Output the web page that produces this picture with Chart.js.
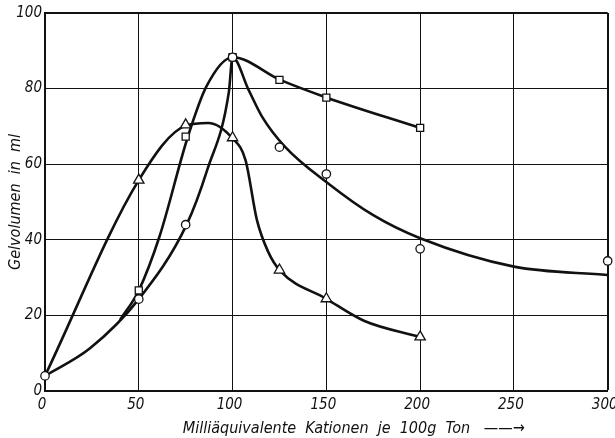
<!DOCTYPE html>
<html>
<head>
<meta charset="utf-8">
<script src="https://cdn.jsdelivr.net/npm/chart.js@4.4.1/dist/chart.umd.min.js"></script>
<style>
  html, body { margin: 0; padding: 0; background: #fff; }
  #wrap { width: 615px; height: 438px; }
</style>
</head>
<body>
<div id="wrap"><canvas id="c" width="615" height="438"></canvas></div>
<script>
/* Gelvolumen vs. Milliäquivalente Kationen — three measured series with hand-drawn curves */

// ---------- measured points ----------
const circleX = [0, 50, 75, 100, 125, 150, 200, 300];
const circleY = [4, 24.3, 44, 88.3, 64.5, 57.4, 37.6, 34.4];

const squareX = [50, 75, 100, 125, 150, 200];
const squareY = [26.6, 67.3, 88.3, 82.3, 77.6, 69.6];

const triangleX = [50, 75, 100, 125, 150, 200];
const triangleY = [55.8, 70.4, 67, 32, 24.4, 14.3];

// ---------- drawn curves ----------
const circleCurveX = [0, 24, 50, 75.5, 86.5, 98, 100, 108.6, 115.7, 128, 151, 175, 200, 250, 300];
const circleCurveY = [4, 11.3, 24.3, 44, 58.5, 79, 88.3, 79.6, 72.6, 64.6, 54.9, 46.5, 40.4, 32.9, 30.7];

const squareCurveX = [40, 50, 61, 76, 86, 100, 125.4, 150.3, 200];
const squareCurveY = [18.8, 26.6, 40.8, 67, 80.5, 88.3, 82.3, 77.6, 69.6];

const triangleCurveX = [0, 50, 75, 87, 100, 106.9, 113, 119, 125.4, 150, 170, 200];
const triangleCurveY = [4, 55.8, 70.2, 70.9, 66.8, 61.1, 45.2, 36.8, 31.8, 24.4, 18.6, 14.3];

// ---------- axes ----------
const xTicks = [0, 50, 100, 150, 200, 250, 300];
const yTicks = [0, 20, 40, 60, 80, 100];

const INK = "#111";
const FONT = "'Liberation Sans Narrow', 'DejaVu Sans Condensed', Arial, sans-serif";

function pts(xs, ys) {
  return xs.map((x, i) => ({ x, y: ys[i] }));
}

function markerSet(xs, ys, style, size) {
  return {
    data: pts(xs, ys),
    showLine: false,
    pointStyle: style,
    pointRadius: size,
    pointBackgroundColor: "#fff",
    pointBorderColor: INK,
    pointBorderWidth: 1.3,
    clip: false,
    order: 0,
  };
}

function curveSet(xs, ys) {
  return {
    data: pts(xs, ys),
    showLine: true,
    borderColor: INK,
    borderWidth: 2.6,
    pointRadius: 0,
    cubicInterpolationMode: "monotone",
    clip: false,
    order: 1,
  };
}

new Chart(document.getElementById("c"), {
  type: "scatter",
  data: {
    datasets: [
      markerSet(circleX, circleY, "circle", 4.2),
      markerSet(squareX, squareY, "rect", 5),
      markerSet(triangleX, triangleY, "triangle", 6),
      curveSet(circleCurveX, circleCurveY),
      curveSet(squareCurveX, squareCurveY),
      curveSet(triangleCurveX, triangleCurveY),
    ],
  },
  options: {
    responsive: false,
    animation: false,
    layout: { padding: { top: 13, right: 6, left: 0, bottom: 0 } },
    plugins: { legend: { display: false }, tooltip: { enabled: false } },
    scales: {
      x: {
        type: "linear",
        min: 0, max: 300,
        afterBuildTicks: s => { s.ticks = xTicks.map(v => ({ value: v })); },
        afterFit: s => { s.height = 47; s.paddingLeft = 0; s.paddingRight = 0; },
        border: { display: true, color: INK, width: 2 },
        grid: {
          color: INK,
          lineWidth: c => (c.tick.value === 300 ? 2 : 1),
          drawTicks: false,
        },
        ticks: {
          color: INK,
          padding: 5,
          labelOffset: -3,
          font: { family: FONT, size: 15, style: "italic" },
        },
        title: {
          display: true,
          text: "\u00a0\u00a0\u00a0\u00a0\u00a0\u00a0\u00a0\u00a0\u00a0\u00a0\u00a0\u00a0Milliäquivalente  Kationen  je  100g  Ton   ——→",
          color: INK,
          padding: { top: 0, bottom: 0 },
          font: { family: FONT, size: 16, style: "italic" },
        },
      },
      y: {
        min: 0, max: 100,
        afterBuildTicks: s => { s.ticks = yTicks.map(v => ({ value: v })); },
        afterFit: s => { s.width = 45; s.paddingTop = 0; s.paddingBottom = 0; },
        border: { display: true, color: INK, width: 2 },
        grid: {
          color: INK,
          lineWidth: c => (c.tick.value === 100 ? 2 : 1),
          drawTicks: false,
        },
        ticks: {
          color: INK,
          padding: 3,
          font: { family: FONT, size: 15, style: "italic" },
        },
        title: {
          display: true,
          text: "Gelvolumen  in  ml",
          color: INK,
          padding: { top: 6, bottom: 2 },
          font: { family: FONT, size: 16, style: "italic" },
        },
      },
    },
  },
});
</script>
</body>
</html>
